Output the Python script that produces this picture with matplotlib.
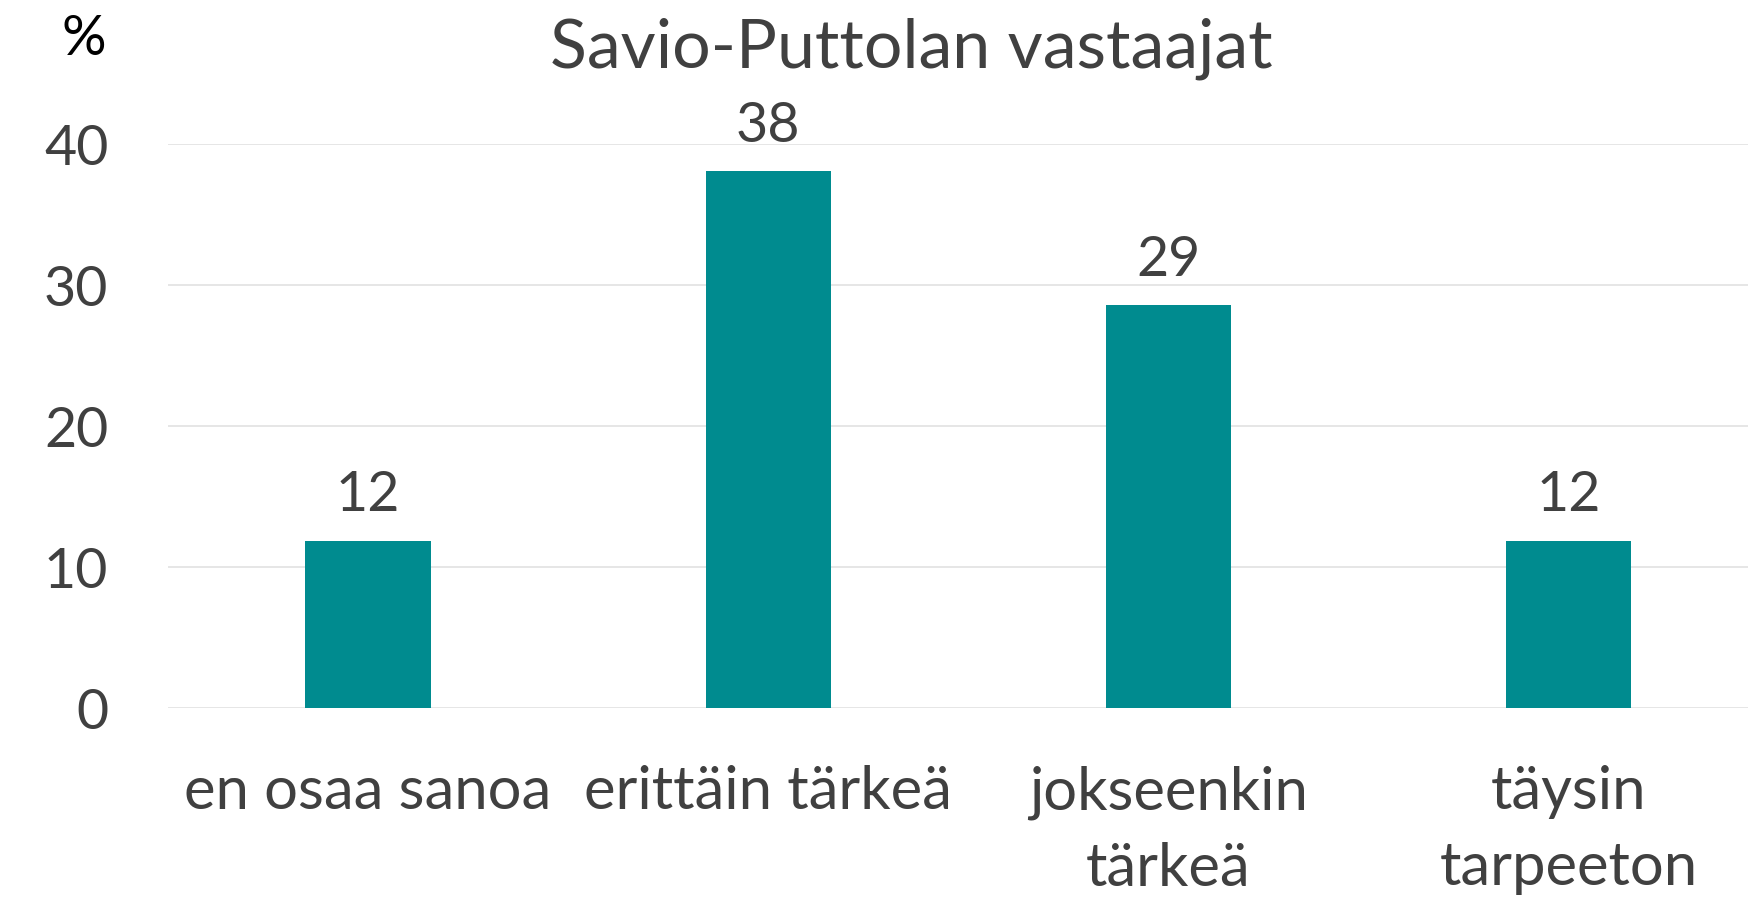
import matplotlib
matplotlib.use("Agg")
import matplotlib.pyplot as plt

# data
categories = ["en osaa sanoa", "erittäin tärkeä", "jokseenkin\ntärkeä", "täysin\ntarpeeton"]
values = [11.9, 38.1, 28.6, 11.9]
yticks = [0, 10, 20, 30, 40]

title = "Savio-Puttolan vastaajat"
unit_label = "%"

bar_color = "#008B8F"
text_color = "#404040"
grid_color = "#E6E6E6"

plt.rcParams["font.family"] = ["Lato", "DejaVu Sans"]

W, H = 1749, 902
fig = plt.figure(figsize=(W / 100, H / 100), dpi=100)
ax = fig.add_axes([168 / W, (H - 708.3) / H, 1 - 168 / W, (708.3 - 144.3) / H])

x = list(range(len(categories)))
ax.bar(x, values, width=0.313, color=bar_color, zorder=3)

for xi, v in zip(x, values):
    ax.annotate(f"{v:.0f}", (xi, v), xytext=(0, 21), textcoords="offset points",
                ha="center", va="baseline", fontsize=40, color=text_color)

ax.set_xlim(-0.5, 3.451)
ax.set_ylim(0, 40)
ax.set_yticks(yticks)
ax.set_xticks(x)
ax.set_xticklabels(categories, fontsize=43, color=text_color, linespacing=1.5)
ax.tick_params(axis="y", length=0, pad=43, labelsize=40, labelcolor=text_color)
ax.tick_params(axis="x", length=0, pad=41)

ax.grid(axis="y", color=grid_color, linewidth=1.4, zorder=0)
for s in ax.spines.values():
    s.set_visible(False)

fig.text(911 / W, 1 - 68 / H, title, ha="center", va="baseline", fontsize=49, color=text_color)
fig.text(84 / W, 1 - 55 / H, unit_label, ha="center", va="baseline", fontsize=40, color="black")

fig.savefig("out.png", dpi=100, facecolor="white")
